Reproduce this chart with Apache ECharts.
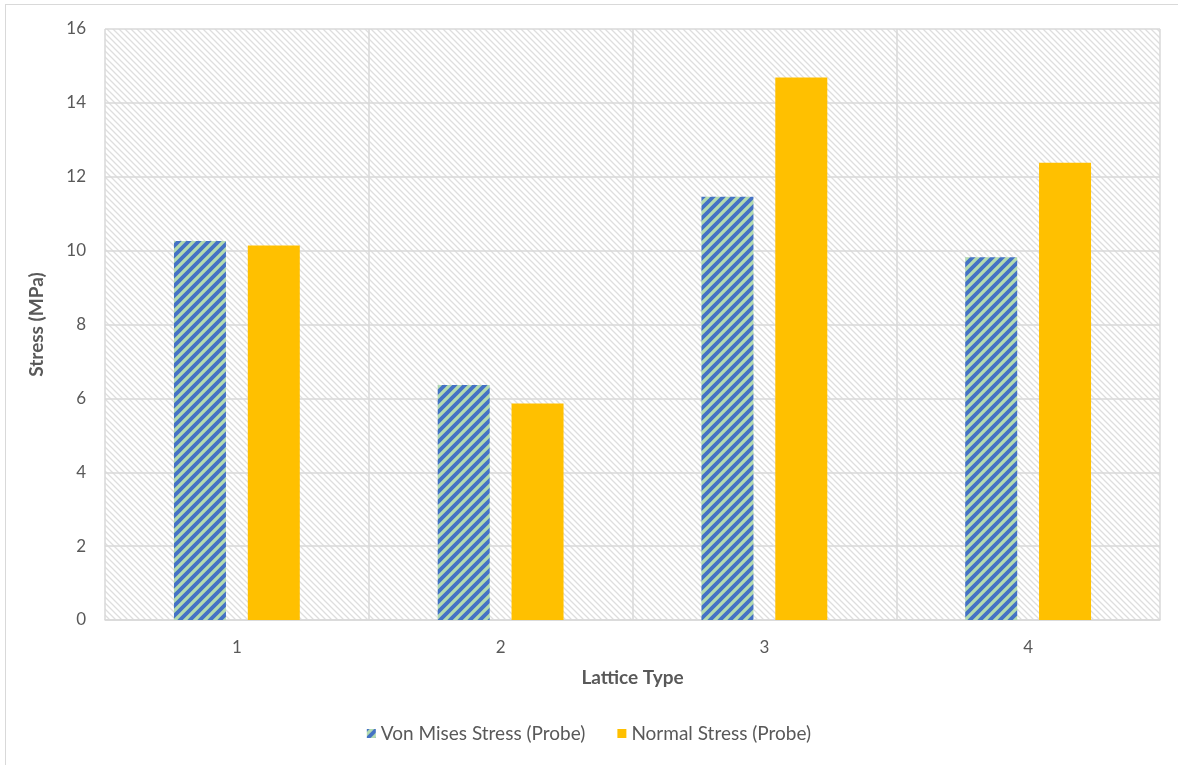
<!DOCTYPE html>
<html>
<head>
<meta charset="utf-8">
<script src="https://cdn.jsdelivr.net/npm/echarts@6/dist/echarts.min.js"></script>
<style>
  html, body { margin: 0; padding: 0; background: #fff; }
  #frame { position: absolute; left: 0; top: 0; width: 1178px; height: 765px; }
  #edge { position: absolute; left: 5px; top: 4px; right: 0; bottom: 0;
          border-top: 1.5px solid #d9d9d9; border-left: 1.5px solid #d9d9d9; pointer-events: none; }
  #chart { position: absolute; left: 0; top: 0; width: 1178px; height: 765px; }
</style>
</head>
<body>
<div id="frame">
  <div id="chart"></div>
  <div id="edge"></div>
</div>
<script>
// Lattice types and probe stresses (MPa)
const latticeTypes = ['1', '2', '3', '4'];
const vonMisesStress = [10.26, 6.36, 11.46, 9.82];
const normalStress = [10.14, 5.86, 14.69, 12.38];
const seriesNames = ['Von Mises Stress (Probe)', 'Normal Stress (Probe)'];

// Repeating diagonal stripe tile. dir = 1 draws "/" lines, dir = -1 draws "\" lines.
function stripeTile(size, bg, fg, width, dir) {
  const c = document.createElement('canvas');
  c.width = size; c.height = size;
  const ctx = c.getContext('2d');
  ctx.fillStyle = bg;
  ctx.fillRect(0, 0, size, size);
  ctx.strokeStyle = fg;
  ctx.lineWidth = width;
  ctx.beginPath();
  for (let k = -1; k <= 1; k++) {
    if (dir > 0) {
      ctx.moveTo(k * size - size, size + size);
      ctx.lineTo(k * size + size + size, -size);
    } else {
      ctx.moveTo(k * size - size, -size);
      ctx.lineTo(k * size + size + size, size + size);
    }
  }
  ctx.stroke();
  return c;
}

const barHatch = { image: stripeTile(10, '#b3dbb0', '#4472c4', 3.8, 1), repeat: 'repeat' };
const plotHatch = { image: stripeTile(6, '#ffffff', '#dedede', 1.3, -1), repeat: 'repeat' };

const textColor = '#595959';
const fontFamily = 'Lato, "Open Sans", sans-serif';

const chart = echarts.init(document.getElementById('chart'), null, { renderer: 'canvas' });
chart.setOption({
  backgroundColor: '#ffffff',
  animation: false,
  grid: {
    left: 105, right: 18, top: 29, bottom: 145,
    show: true, backgroundColor: plotHatch, borderWidth: 0
  },
  legend: {
    bottom: 17,
    left: 'center',
    icon: 'rect',
    itemWidth: 9,
    itemHeight: 9,
    itemGap: 32,
    textStyle: { color: textColor, fontSize: 19, fontFamily: fontFamily },
    data: seriesNames
  },
  xAxis: {
    type: 'category',
    data: latticeTypes,
    name: 'Lattice Type',
    nameLocation: 'middle',
    nameGap: 48,
    nameTextStyle: { color: textColor, fontSize: 19, fontWeight: 'bold', fontFamily: fontFamily },
    axisLine: { show: true, lineStyle: { color: '#d9d9d9', width: 1.5 } },
    axisTick: { show: false },
    axisLabel: { color: textColor, fontSize: 17, margin: 19, fontFamily: fontFamily },
    splitLine: { show: true, lineStyle: { color: '#d9d9d9', width: 1.5 } }
  },
  yAxis: {
    type: 'value',
    min: 0, max: 16, interval: 2,
    name: 'Stress (MPa)',
    nameLocation: 'middle',
    nameGap: 59,
    nameTextStyle: { color: textColor, fontSize: 19, fontWeight: 'bold', fontFamily: fontFamily },
    axisLine: { show: false },
    axisTick: { show: false },
    axisLabel: { color: textColor, fontSize: 17, margin: 19, fontFamily: fontFamily },
    splitLine: { show: true, lineStyle: { color: '#d9d9d9', width: 1.5 } }
  },
  series: [
    {
      name: seriesNames[0],
      type: 'bar',
      data: vonMisesStress,
      barWidth: 52,
      barGap: '42%',
      itemStyle: { color: barHatch }
    },
    {
      name: seriesNames[1],
      type: 'bar',
      data: normalStress,
      barWidth: 52,
      itemStyle: { color: '#ffc000' }
    }
  ]
});
</script>
</body>
</html>
